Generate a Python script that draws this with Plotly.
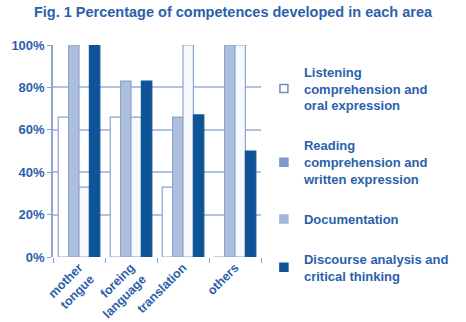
import plotly.graph_objects as go

categories = ["mother<br>tongue", "foreing<br>language", "translation", "others"]
series_names = [
    "Listening<br>comprehension and<br>oral expression",
    "Reading<br>comprehension and<br>written expression",
    "Documentation",
    "Discourse analysis and<br>critical thinking",
]
listening = [66, 66, 33, 0]
reading = [100, 83, 66, 100]
documentation = [33, 66, 100, 100]
discourse = [100, 83, 67, 50]

values = [listening, reading, documentation, discourse]
fills = ["#ffffff", "#aebfde", "#f7f9fd", "#0f5497"]
outlines = ["#8da4d0", "#8da4d0", "#8da4d0", "#0f5497"]
legend_fills = ["#ffffff", "#7f98c9", "#a3b5d9", "#0f5497"]
legend_lines = ["#6f8ac2", "#7f98c9", "#a3b5d9", "#0f5497"]
TXT = "#2c5fab"
FONT = "Liberation Sans, Arial"

fig = go.Figure()
for i, (name, vals, fc, lc) in enumerate(zip(series_names, values, fills, outlines)):
    fig.add_trace(go.Bar(
        x=categories, y=vals, name=name, showlegend=False,
        marker=dict(color=fc, line=dict(color=lc, width=1.2)),
    ))
for i, (name, fc, lc) in enumerate(zip(series_names, legend_fills, legend_lines)):
    fig.add_trace(go.Scatter(
        x=[None], y=[None], mode="markers", name="<b>" + name.replace("<br>", "</b><br><b>") + "</b>",
        legendgroup="g%d" % i, showlegend=True,
        marker=dict(symbol="square", size=8, color=fc, line=dict(color=lc, width=1.5)),
    ))

fig.update_layout(
    width=466, height=322,
    margin=dict(l=53, r=201, t=45, b=65),
    paper_bgcolor="white", plot_bgcolor="white",
    barmode="group", bargap=0.2, bargroupgap=0.0,
    title=dict(text="<b>Fig. 1 Percentage of competences developed in each area</b>",
               x=0.5, xanchor="center", y=0.98, yanchor="top",
               font=dict(family=FONT, size=14.5, color=TXT)),
    font=dict(family=FONT, color=TXT),
    showlegend=True,
    legend=dict(x=1.014, xanchor="left", y=0.945, yanchor="top",
                font=dict(size=13, color=TXT, family=FONT),
                tracegroupgap=20, itemwidth=30, traceorder="grouped",
                bgcolor="rgba(0,0,0,0)", maxheight=320),
)
fig.update_xaxes(
    showline=False, ticks="outside", tickson="boundaries", ticklen=5,
    tickcolor="#8da4d0", tickangle=-45, automargin=False,
    tickfont=dict(size=12.5, color=TXT),
    tickprefix="<b>", ticksuffix="</b>",
)
fig.update_yaxes(
    range=[0, 100], dtick=20, ticksuffix="%", showgrid=True,
    gridcolor="#b2c2e2", gridwidth=1.5, automargin=False,
    showline=True, linecolor="#8da4d0", linewidth=1.5,
    ticks="outside", ticklen=4, tickcolor="#8da4d0",
    tickfont=dict(size=13, color=TXT), zeroline=False,
    tickprefix="<b>",
)
fig.write_html("out.html")
